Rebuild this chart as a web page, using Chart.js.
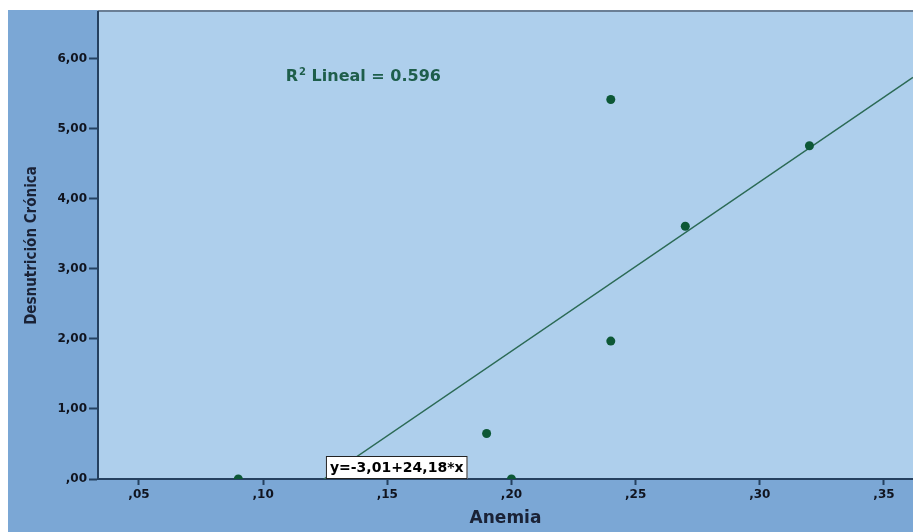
<!DOCTYPE html>
<html>
<head>
<meta charset="utf-8">
<script src="https://cdn.jsdelivr.net/npm/chart.js@4"></script>
<style>
  html, body { margin: 0; padding: 0; background: #fff; overflow: hidden; }
  canvas { display: block; }
</style>
</head>
<body>
<canvas id="chart" width="913" height="532"></canvas>
<script>
// datos
const anemia = [0.09, 0.19, 0.20, 0.24, 0.24, 0.27, 0.32];
const desnutricion = [0.00, 0.65, 0.00, 5.42, 1.97, 3.61, 4.76];
const xTicks = [0.05, 0.10, 0.15, 0.20, 0.25, 0.30, 0.35];
const yTicks = [0, 1, 2, 3, 4, 5, 6];

// recta de ajuste
const intercept = -3.01;
const slope = 24.18;
const r2 = 0.596;

const X_MIN = 0.0335, X_MAX = 0.3617;
const Y_MIN = 0, Y_MAX = 6.67;

const axisColor = '#25405f';
const tickText = '#10141f';
const pointColor = '#0d5836';
const lineColor = '#2b6a55';

const fmt = v => v.toFixed(2).replace('.', ',').replace(/^0/, '');

const points = anemia.map((x, i) => ({ x: x, y: desnutricion[i] }));
const x0 = -intercept / slope;
const fitLine = [
  { x: x0, y: 0 },
  { x: X_MAX, y: intercept + slope * X_MAX },
];

const background = {
  id: 'background',
  beforeDraw(chart) {
    const { ctx, width, height, chartArea: a } = chart;
    ctx.save();
    ctx.fillStyle = '#ffffff';
    ctx.fillRect(0, 0, width, height);
    ctx.fillStyle = '#7ba7d5';
    ctx.fillRect(8, 10, width - 8, height - 10);
    ctx.fillStyle = '#aecfec';
    ctx.fillRect(a.left, a.top, a.right - a.left, a.bottom - a.top);
    ctx.strokeStyle = '#6b7f95';
    ctx.lineWidth = 2;
    ctx.beginPath();
    ctx.moveTo(a.left, a.top - 1);
    ctx.lineTo(a.right, a.top - 1);
    ctx.stroke();
    ctx.restore();
  },
};

const labels = {
  id: 'labels',
  afterDraw(chart) {
    const { ctx, scales: { x, y }, chartArea: a } = chart;
    ctx.save();
    // R² Lineal
    const rx = x.getPixelForValue(0.1091);
    const ry = y.getPixelForValue(5.74);
    ctx.fillStyle = '#1e5e4b';
    ctx.textBaseline = 'middle';
    ctx.textAlign = 'left';
    ctx.font = 'bold 16px "DejaVu Sans"';
    ctx.fillText('R', rx, ry);
    let w = ctx.measureText('R').width;
    ctx.font = 'bold 10px "DejaVu Sans"';
    ctx.fillText('2', rx + w + 1, ry - 5);
    w += ctx.measureText('2').width + 1;
    ctx.font = 'bold 16px "DejaVu Sans"';
    ctx.fillText(' Lineal = ' + r2.toFixed(3), rx + w, ry);

    // ecuación
    const eq = 'y=' + intercept.toFixed(2).replace('.', ',') + '+' + slope.toFixed(2).replace('.', ',') + '*x';
    ctx.font = 'bold 14px "DejaVu Sans"';
    const tw = ctx.measureText(eq).width;
    const bx = x.getPixelForValue(x0) + 2;
    const bh = 23;
    const by = a.bottom - bh;
    ctx.fillStyle = '#ffffff';
    ctx.fillRect(bx, by, tw + 8, bh);
    ctx.strokeStyle = '#222';
    ctx.lineWidth = 1;
    ctx.strokeRect(bx + 0.5, by + 0.5, tw + 7, bh - 1);
    ctx.fillStyle = '#000';
    ctx.fillText(eq, bx + 4, by + bh / 2 + 1);
    ctx.restore();
  },
};

new Chart(document.getElementById('chart'), {
  type: 'scatter',
  data: {
    datasets: [
      {
        label: 'Desnutrición Crónica',
        data: points,
        backgroundColor: pointColor,
        borderWidth: 0,
        pointRadius: 4.5,
        clip: 0,
        order: 0,
      },
      {
        type: 'line',
        label: 'Lineal',
        data: fitLine,
        borderColor: lineColor,
        borderWidth: 1.5,
        pointRadius: 0,
        fill: false,
        order: 1,
      },
    ],
  },
  options: {
    responsive: false,
    animation: false,
    layout: { autoPadding: false, padding: { top: 12, left: 0, right: 0, bottom: 0 } },
    plugins: {
      legend: { display: false },
      tooltip: { enabled: false },
    },
    scales: {
      x: {
        type: 'linear',
        min: X_MIN,
        max: X_MAX,
        afterBuildTicks: s => { s.ticks = xTicks.map(v => ({ value: v })); },
        afterFit: s => { s.height = 53; s.paddingLeft = 0; s.paddingRight = 0; },
        border: { display: true, color: axisColor, width: 2 },
        grid: { drawOnChartArea: false, drawTicks: true, tickLength: 6, tickColor: axisColor, tickWidth: 2 },
        ticks: {
          callback: v => fmt(v),
          color: tickText,
          padding: 3,
          maxRotation: 0,
          font: { family: 'DejaVu Sans', weight: 'bold', size: 12 },
        },
        title: {
          display: true,
          text: 'Anemia',
          color: '#1a2236',
          padding: { top: 0, bottom: 3 },
          font: { family: 'DejaVu Sans', weight: 'bold', size: 17 },
        },
      },
      y: {
        min: Y_MIN,
        max: Y_MAX,
        afterBuildTicks: s => { s.ticks = yTicks.map(v => ({ value: v })); },
        afterFit: s => { s.width = 98; s.paddingTop = 0; s.paddingBottom = 0; },
        border: { display: true, color: axisColor, width: 2 },
        grid: { drawOnChartArea: false, drawTicks: true, tickLength: 9, tickColor: axisColor, tickWidth: 2 },
        ticks: {
          callback: v => fmt(v),
          color: tickText,
          padding: 2,
          font: { family: 'DejaVu Sans', weight: 'bold', size: 12 },
        },
        title: {
          display: true,
          text: 'Desnutrición Crónica',
          color: '#1a2236',
          padding: { top: 23, bottom: 0 },
          font: { family: '"Liberation Sans Narrow", "DejaVu Sans Condensed", sans-serif', weight: 'bold', size: 15 },
        },
      },
    },
  },
  plugins: [background, labels],
});
</script>
</body>
</html>
